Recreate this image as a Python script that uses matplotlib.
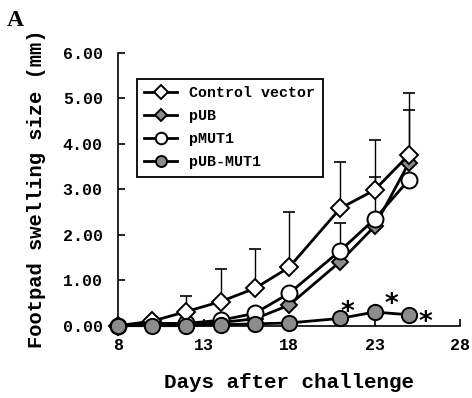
import matplotlib
matplotlib.use("Agg")
import matplotlib.pyplot as plt
import numpy as np

days = [8, 10, 12, 14, 16, 18, 21, 23, 25]

control = [0.00, 0.10, 0.31, 0.53, 0.82, 1.28, 2.58, 2.98, 3.75]
control_top = [0.00, 0.10, 0.65, 1.24, 1.68, 2.49, 3.60, 4.08, 5.12]

pub = [0.00, 0.05, 0.05, 0.07, 0.15, 0.45, 1.41, 2.18, 3.57]
pub_top = [0.00, 0.05, 0.05, 0.07, 0.15, 0.45, 1.41, 2.18, 4.74]

pmut1 = [0.00, 0.05, 0.05, 0.12, 0.27, 0.71, 1.65, 2.34, 3.20]
pmut1_top = [0.00, 0.05, 0.05, 0.12, 0.27, 0.71, 2.26, 3.27, 3.20]

pubmut1 = [0.00, 0.00, 0.00, 0.02, 0.04, 0.06, 0.16, 0.30, 0.24]

star_days = [21, 23, 25]
star_vals = [0.16, 0.30, 0.24]

mono = "Liberation Mono"
gray = "#8c8c8c"


def upper_err(ax, x, y, top):
    y = np.array(y)
    top = np.array(top)
    up = top - y
    ax.errorbar(x, y, yerr=[np.zeros_like(up), up], fmt="none",
                ecolor="black", elinewidth=1.0, capsize=4, capthick=1.2,
                zorder=1, clip_on=False)


fig = plt.figure(figsize=(4.72, 3.98), dpi=100)
ax = fig.add_axes([0.25, 0.1817, 0.7246, 0.686])

upper_err(ax, days, control, control_top)
upper_err(ax, days, pub, pub_top)
upper_err(ax, days, pmut1, pmut1_top)

line_kw = dict(color="black", lw=2.0, markeredgecolor="black",
               markeredgewidth=1.4, clip_on=False)
ax.plot(days, pub, marker="D", ms=8.5, markerfacecolor=gray,
        label="pUB", zorder=3, **line_kw)
ax.plot(days, pmut1, marker="o", ms=11.5, markerfacecolor="white",
        label="pMUT1", zorder=4, **line_kw)
ax.plot(days, control, marker="D", ms=9.5, markerfacecolor="white",
        label="Control vector", zorder=5, **line_kw)
ax.plot(days, pubmut1, marker="o", ms=11, markerfacecolor=gray,
        label="pUB-MUT1", zorder=6, **line_kw)

# significance marks, nudged beside each point like in the figure
star_offsets = [(5, 4), (12, 5), (12, -6)]
for d, v, off in zip(star_days, star_vals, star_offsets):
    ax.annotate("*", (d, v), xytext=off, textcoords="offset points",
                ha="center", va="center",
                fontsize=19, fontweight="bold", family="DejaVu Sans")

ax.set_xlim(8, 28)
ax.set_ylim(0, 6)
ax.set_xticks([8, 13, 18, 23, 28])
ax.set_yticks(np.arange(0, 7, 1))
ax.set_yticklabels([f"{v:.2f}" for v in np.arange(0, 7, 1)])

for s in ["top", "right"]:
    ax.spines[s].set_visible(False)
for s in ["left", "bottom"]:
    ax.spines[s].set_linewidth(1.2)

ax.tick_params(axis="both", direction="in", length=5, width=1.2)
ax.tick_params(axis="y", pad=11)
ax.tick_params(axis="x", pad=9)
for lab in ax.get_xticklabels() + ax.get_yticklabels():
    lab.set_fontfamily(mono)
    lab.set_fontweight("bold")
    lab.set_fontsize(12)

ax.set_xlabel("Days after challenge", fontsize=15, fontweight="bold",
              family=mono, labelpad=14)
ax.set_ylabel("Footpad swelling size (mm)", fontsize=14.8, fontweight="bold",
              family=mono, labelpad=12)

handles, labels = ax.get_legend_handles_labels()
order = [2, 0, 1, 3]
leg = ax.legend([handles[i] for i in order], [labels[i] for i in order],
                loc="upper left", bbox_to_anchor=(0.055, 0.905),
                borderaxespad=0, fancybox=False, framealpha=1,
                edgecolor="black", handlelength=2.2, labelspacing=0.6,
                borderpad=0.5,
                prop={"family": mono, "weight": "bold", "size": 10.8},
                markerscale=0.72)
leg.get_frame().set_linewidth(1.3)

fig.text(0.015, 0.975, "A", fontsize=17, fontweight="bold",
         family="Liberation Serif", va="top")

fig.savefig("out.png", dpi=100)
